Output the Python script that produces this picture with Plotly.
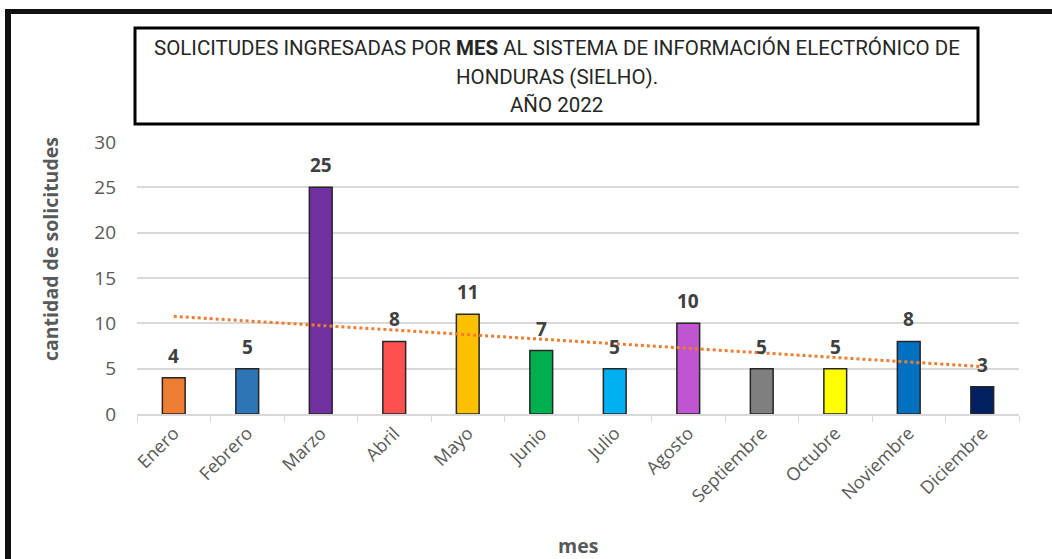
import numpy as np
import plotly.graph_objects as go

meses = ["Enero", "Febrero", "Marzo", "Abril", "Mayo", "Junio", "Julio",
         "Agosto", "Septiembre", "Octubre", "Noviembre", "Diciembre"]
solicitudes = [4, 5, 25, 8, 11, 7, 5, 10, 5, 5, 8, 3]
colores = ["#ED7D31", "#2E75B6", "#7030A0", "#FF5050", "#FFC000", "#00B050",
           "#00B0F0", "#BF55D0", "#7F7F7F", "#FFFF00", "#0070C0", "#002060"]
y_ticks = [0, 5, 10, 15, 20, 25, 30]

W, H = 1052, 559
L, R, T, B = 137, 1019, 142, 414
def px(x):
    return (x - L) / (R - L)
def py(y):
    return (B - y) / (B - T)

# linear trend
xi = np.arange(1, len(solicitudes) + 1)
m, c = np.polyfit(xi, solicitudes, 1)
trend = m * xi + c

fig = go.Figure()
fig.add_trace(go.Bar(x=meses, y=solicitudes, marker=dict(color=colores, line=dict(color="#262626", width=1.5)),
                     showlegend=False, hoverinfo="x+y"))
fig.add_trace(go.Scatter(x=meses, y=trend, mode="lines",
                         line=dict(color="#ED7D31", width=3, dash="dot"), showlegend=False))

annotations = []
for mth, v in zip(meses, solicitudes):
    annotations.append(dict(x=mth, y=v, text=f"<b>{v}</b>", showarrow=False, yshift=22,
                            xanchor="center", yanchor="middle",
                            font=dict(family="Open Sans", size=19, color="#404040")))

tfont = dict(family="Roboto", size=20.5, color="#262626")
cx = px((135 + 978) / 2)
annotations += [
    dict(x=cx, y=py(48), xref="paper", yref="paper", showarrow=False, xanchor="center", yanchor="middle",
         text="SOLICITUDES INGRESADAS POR <b>MES</b> AL SISTEMA DE INFORMACIÓN ELECTRÓNICO DE", font=tfont),
    dict(x=cx, y=py(77), xref="paper", yref="paper", showarrow=False, xanchor="center", yanchor="middle",
         text="HONDURAS (SIELHO).", font=tfont),
    dict(x=cx, y=py(105), xref="paper", yref="paper", showarrow=False, xanchor="center", yanchor="middle",
         text="AÑO 2022", font=tfont),
    dict(x=px(50), y=py(249), xref="paper", yref="paper", showarrow=False, textangle=-90,
         xanchor="center", yanchor="middle",
         text="<b>cantidad de solicitudes</b>", font=dict(family="Open Sans", size=19.5, color="#595959")),
    dict(x=px(578), y=py(545), xref="paper", yref="paper", showarrow=False, xanchor="center", yanchor="middle",
         text="<b>mes</b>", font=dict(family="Open Sans", size=19.5, color="#595959")),
]

shapes = [
    dict(type="rect", xref="paper", yref="paper", x0=px(135), x1=px(978), y0=py(124), y1=py(28),
         line=dict(color="black", width=3)),
    dict(type="line", xref="paper", yref="paper", x0=px(5), x1=px(1060), y0=py(11.5), y1=py(11.5),
         line=dict(color="#111111", width=5)),
    dict(type="line", xref="paper", yref="paper", x0=px(8), x1=px(8), y0=py(9), y1=py(570),
         line=dict(color="#111111", width=6)),
]

fig.update_layout(
    width=W, height=H,
    margin=dict(l=L, r=W - R, t=T, b=H - B, autoexpand=False),
    paper_bgcolor="white", plot_bgcolor="white",
    bargap=0.69,
    annotations=annotations, shapes=shapes,
    xaxis=dict(type="category", tickson="boundaries", ticks="outside", ticklen=6, tickcolor="#D9D9D9",
               showline=True, linecolor="#D9D9D9", linewidth=1.5, tickangle=-45,
               tickfont=dict(family="Open Sans", size=18, color="#595959"), showgrid=False),
    yaxis=dict(range=[0, 30], tickvals=y_ticks, showgrid=True, gridcolor="#D9D9D9", gridwidth=1.5,
               zeroline=False, showline=False, ticks="", ticklabelstandoff=20,
               tickfont=dict(family="Open Sans", size=19, color="#595959")),
)

fig.write_html("out.html", config={"displayModeBar": False},
               post_script="document.body.style.margin='0';document.body.style.overflow='hidden';")
